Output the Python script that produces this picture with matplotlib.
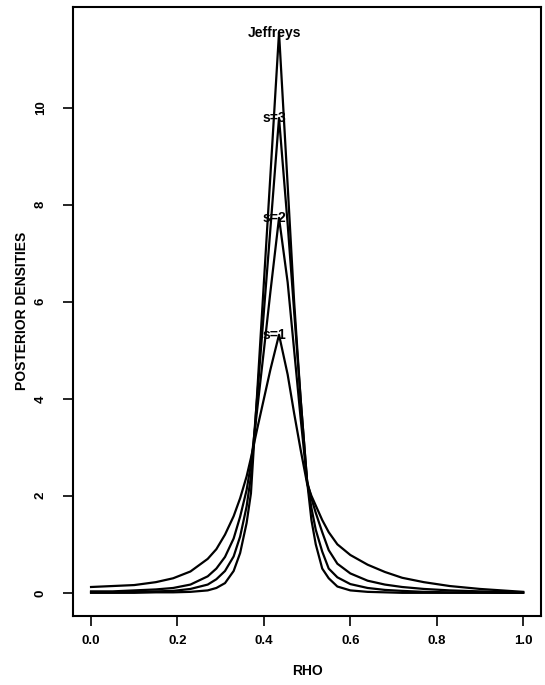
import matplotlib
matplotlib.use("Agg")
import matplotlib.pyplot as plt

plt.rcParams['font.family'] = ['Liberation Sans', 'DejaVu Sans']

# grid of rho values and the four posterior densities
rho = [0.00, 0.05, 0.10, 0.15, 0.19, 0.23, 0.27, 0.29, 0.31, 0.33, 0.345, 0.36,
       0.37, 0.385, 0.40, 0.415, 0.435, 0.455, 0.47, 0.485, 0.50, 0.51, 0.52,
       0.535, 0.55, 0.57, 0.60, 0.64, 0.68, 0.72, 0.77, 0.83, 0.90, 0.95, 1.00]

dens_s1 = [0.12, 0.14, 0.16, 0.22, 0.30, 0.44, 0.70, 0.90, 1.20, 1.58, 1.95, 2.40,
           2.78, 3.40, 4.00, 4.60, 5.32, 4.50, 3.70, 2.95, 2.25, 2.00, 1.80,
           1.50, 1.25, 1.00, 0.78, 0.58, 0.43, 0.31, 0.22, 0.14, 0.08, 0.05, 0.02]
dens_s2 = [0.03, 0.03, 0.05, 0.07, 0.10, 0.17, 0.34, 0.50, 0.74, 1.12, 1.57, 2.12,
           2.65, 3.82, 5.00, 6.20, 7.73, 6.40, 5.00, 3.60, 2.30, 1.95, 1.65,
           1.25, 0.88, 0.60, 0.40, 0.25, 0.17, 0.12, 0.08, 0.05, 0.03, 0.02, 0.01]
dens_s3 = [0.01, 0.01, 0.02, 0.03, 0.04, 0.08, 0.17, 0.28, 0.45, 0.75, 1.16, 1.78,
           2.40, 4.10, 5.80, 7.50, 9.79, 7.60, 5.80, 4.00, 2.30, 1.75, 1.30,
           0.85, 0.50, 0.32, 0.18, 0.10, 0.06, 0.04, 0.02, 0.01, 0.01, 0.00, 0.00]
dens_jef = [0.00, 0.00, 0.00, 0.01, 0.01, 0.02, 0.05, 0.10, 0.20, 0.45, 0.82, 1.44,
            2.05, 4.20, 6.40, 8.60, 11.55, 8.40, 6.00, 4.00, 2.30, 1.50, 1.00,
            0.50, 0.30, 0.13, 0.05, 0.02, 0.01, 0.00, 0.00, 0.00, 0.00, 0.00, 0.00]

curves = [("s=1", dens_s1), ("s=2", dens_s2), ("s=3", dens_s3), ("Jeffreys", dens_jef)]

fig = plt.figure(figsize=(5.45, 6.85), dpi=100)
ax = fig.add_axes([0.134, 0.101, 0.859, 0.889])

for name, d in curves:
    ax.plot(rho, d, color='black', lw=1.6)
    peak = max(d)
    xp = rho[d.index(peak)]
    ax.text(xp - 0.01, peak, name, ha='center', va='center', fontsize=10,
            fontweight='bold', color='black')

ax.set_xlim(-0.0417, 1.0417)
ax.set_ylim(-0.474, 12.08)
ax.set_xticks([0.0, 0.2, 0.4, 0.6, 0.8, 1.0])
ax.set_xticklabels(["0.0", "0.2", "0.4", "0.6", "0.8", "1.0"])
ax.set_yticks([0, 2, 4, 6, 8, 10])
ax.set_yticklabels(["0", "2", "4", "6", "8", "10"], rotation=90, va='center')

ax.tick_params(direction='out', length=7, width=1.2, labelsize=9.5)
ax.tick_params(axis='x', pad=7)
ax.tick_params(axis='y', pad=12)
for lab in ax.get_xticklabels() + ax.get_yticklabels():
    lab.set_fontweight('bold')
for sp in ax.spines.values():
    sp.set_linewidth(1.5)

ax.set_xlabel("RHO", fontsize=10, fontweight='bold', labelpad=12)
ax.set_ylabel("POSTERIOR DENSITIES", fontsize=10, fontweight='bold', labelpad=4)

fig.savefig("out.png", dpi=100)
